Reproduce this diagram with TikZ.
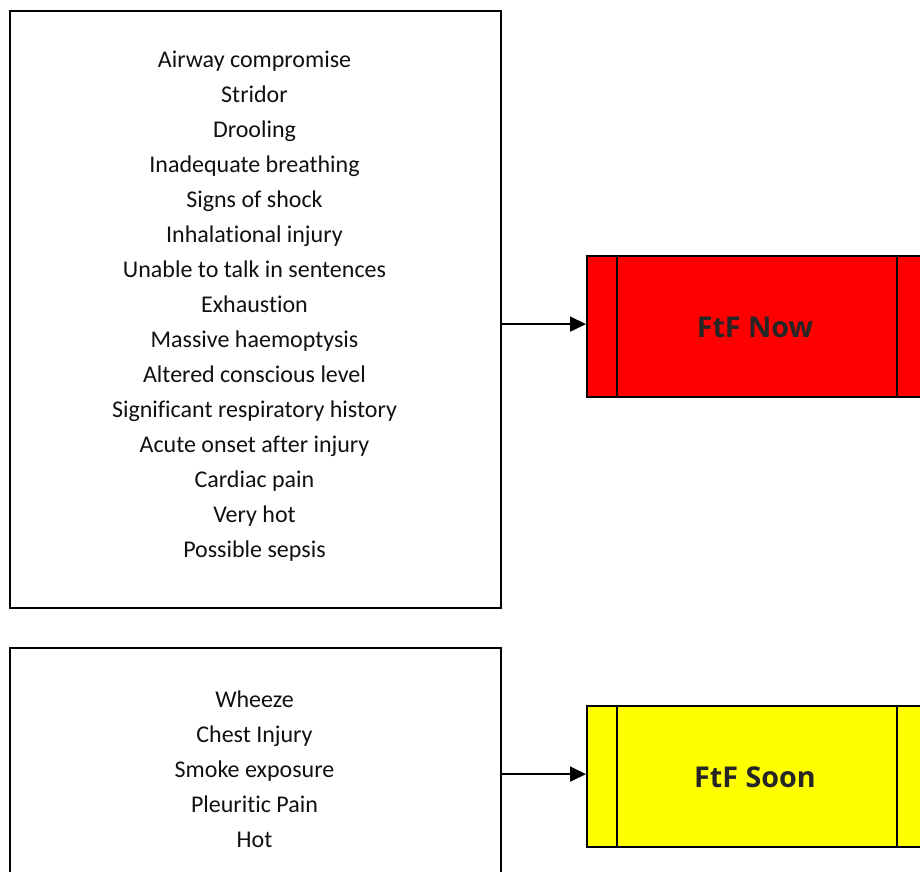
\documentclass[tikz,border=0pt]{standalone}
\usepackage{fontspec}
\setmainfont[RawFeature={-liga;-clig;-dlig;-calt}]{Carlito}
\newfontfamily\labelfont{Open Sans}
\usetikzlibrary{arrows.meta}
\definecolor{txt}{HTML}{111111}
\definecolor{boldtxt}{HTML}{262626}
\definecolor{nowred}{HTML}{FF0000}
\definecolor{soonyellow}{HTML}{FFFF00}
\begin{document}
\begin{tikzpicture}[x=1pt,y=-1pt,
  listbox/.style={draw=black,line width=2.2pt,fill=white,rectangle,inner sep=0pt},
  listtext/.style={align=center,font=\fontsize{24}{35}\selectfont,text=txt,inner sep=0pt},
  actionbox/.style={draw=black,line width=2.2pt,rectangle,inner sep=0pt},
  actiontext/.style={font=\labelfont\bfseries\fontsize{28.7}{32}\selectfont,text=boldtxt,inner sep=0pt},
  link/.style={line width=1.8pt,-{Triangle[length=16pt,width=15pt]}}]
\useasboundingbox (0,0) rectangle (920,871);
\clip (0,0) rectangle (920,871);
\fill[white] (0,0) rectangle (920,871);

% left-hand lists of findings
\node[listbox,minimum width=491pt,minimum height=597pt,anchor=north west] (urgent) at (9,10) {};
\node[listtext,anchor=center] (urgentlist) at (254.5,306) {Airway compromise\\Stridor\\Drooling\\Inadequate breathing\\Signs of shock\\Inhalational injury\\Unable to talk in sentences\\Exhaustion\\Massive haemoptysis\\Altered conscious level\\Significant respiratory history\\Acute onset after injury\\Cardiac pain\\Very hot\\Possible sepsis};

\node[listbox,minimum width=491pt,minimum height=260pt,anchor=north west] (soon) at (9,647) {};
\node[listtext,anchor=center] (soonlist) at (254.5,769) {Wheeze\\Chest Injury\\Smoke exposure\\Pleuritic Pain\\Hot};

% right-hand outcome boxes (predefined-process shape)
\node[actionbox,fill=nowred,minimum width=340pt,minimum height=141pt,anchor=north west] (now) at (586,255) {};
\draw[line width=2.2pt] ([xshift=31pt]now.north west) -- ([xshift=31pt]now.south west);
\draw[line width=2.2pt] ([xshift=-31pt]now.north east) -- ([xshift=-31pt]now.south east);
\node[actiontext] (nowlabel) at (755,327) {FtF Now};

\node[actionbox,fill=soonyellow,minimum width=340pt,minimum height=141pt,anchor=north west] (soonbox) at (586,705) {};
\draw[line width=2.2pt] ([xshift=31pt]soonbox.north west) -- ([xshift=31pt]soonbox.south west);
\draw[line width=2.2pt] ([xshift=-31pt]soonbox.north east) -- ([xshift=-31pt]soonbox.south east);
\node[actiontext] (soonlabel) at (755,777) {FtF Soon};

% connectors
\draw[link] ([yshift=2.5pt]now.west -| urgent.east) -- ([yshift=2.5pt]now.west);
\draw[link] ([yshift=2.5pt]soonbox.west -| soon.east) -- ([yshift=2.5pt]soonbox.west);
\end{tikzpicture}
\end{document}
